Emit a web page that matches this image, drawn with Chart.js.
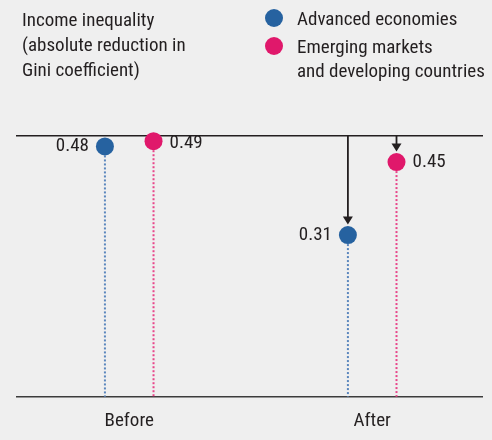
<!DOCTYPE html>
<html>
<head>
<meta charset="utf-8">
<script src="https://cdn.jsdelivr.net/npm/chart.js@4/dist/chart.umd.min.js"></script>
<style>
  html, body { margin: 0; padding: 0; background: #efefef; }
  #wrap {
    position: relative; width: 492px; height: 440px; overflow: hidden;
    font-family: "Roboto Condensed", "DejaVu Sans Condensed", sans-serif;
    color: #231f20;
  }
  #chart { position: absolute; left: 0; top: 0; }
  .title {
    position: absolute; left: 22px; top: 6.5px;
    font-size: 19px; line-height: 25px; white-space: nowrap;
  }
  .legend {
    position: absolute; left: 265px; top: 7.3px;
    font-size: 19px; line-height: 24.5px; white-space: nowrap;
  }
  .legend .item { position: relative; padding-left: 32px; margin-bottom: 3px; }
  .legend .dot {
    position: absolute; left: 0; top: 2px; width: 18px; height: 18px; border-radius: 50%;
  }
</style>
</head>
<body>
<div id="wrap">
  <canvas id="chart" width="492" height="440"></canvas>
  <div class="title" id="title"></div>
  <div class="legend" id="legend"></div>
</div>
<script>
// Categories and series values
const categories = ['Before', 'After'];
const advanced = [0.48, 0.31];
const emerging = [0.49, 0.45];

const titleLines = ['Income inequality', '(absolute reduction in', 'Gini coefficient)'];
const seriesLabels = [['Advanced economies'], ['Emerging markets', 'and developing countries']];

// Styling
const colors = ['#2662a0', '#e0186b'];
const dotColors = ['#5a86bd', '#e8468a'];
const ink = '#231f20';
const fontFamily = '"Roboto Condensed", "DejaVu Sans Condensed", sans-serif';
const seriesShift = [-0.1, 0.1];     // horizontal placement of each series within a category
const labelSide = [-1, 1];           // value labels: left of blue, right of pink

// Title and legend text
document.getElementById('title').innerHTML = titleLines.join('<br>');
document.getElementById('legend').innerHTML = seriesLabels.map((lines, i) =>
  `<div class="item"><span class="dot" style="background:${colors[i]}"></span>${lines.join('<br>')}</div>`
).join('');

const toPoints = (vals, s) => vals.map((v, i) => ({ x: i + seriesShift[s], y: v }));

// Dotted drop lines, arrows to the "After" values, and value labels
const annotate = {
  id: 'annotate',
  beforeDatasetsDraw(chart) {
    const ctx = chart.ctx, area = chart.chartArea;
    ctx.save();
    chart.data.datasets.forEach((ds, s) => {
      chart.getDatasetMeta(s).data.forEach(pt => {
        ctx.beginPath();
        ctx.setLineDash([2, 2]);
        ctx.lineWidth = 2;
        ctx.strokeStyle = dotColors[s];
        ctx.moveTo(pt.x, pt.y + 9);
        ctx.lineTo(pt.x, area.bottom);
        ctx.stroke();
      });
    });
    ctx.restore();
  },
  afterDatasetsDraw(chart) {
    const ctx = chart.ctx, area = chart.chartArea;
    const yTop = chart.scales.y.getPixelForValue(0.5);
    ctx.save();
    // arrows from the top rule down to each series' value after the change
    chart.data.datasets.forEach((ds, s) => {
      const pt = chart.getDatasetMeta(s).data[categories.length - 1];
      const tipY = pt.y - 10.5;
      ctx.setLineDash([]);
      ctx.strokeStyle = ink; ctx.fillStyle = ink; ctx.lineWidth = 1.8;
      ctx.beginPath();
      ctx.moveTo(pt.x, yTop);
      ctx.lineTo(pt.x, tipY - 7);
      ctx.stroke();
      ctx.beginPath();
      ctx.moveTo(pt.x - 5, tipY - 8);
      ctx.lineTo(pt.x + 5, tipY - 8);
      ctx.lineTo(pt.x, tipY);
      ctx.closePath();
      ctx.fill();
    });
    // value labels
    ctx.font = '19px ' + fontFamily;
    ctx.fillStyle = ink;
    ctx.textBaseline = 'middle';
    chart.data.datasets.forEach((ds, s) => {
      chart.getDatasetMeta(s).data.forEach((pt, i) => {
        const side = labelSide[s];
        ctx.textAlign = side < 0 ? 'right' : 'left';
        const y = Math.max(pt.y, area.top + 7);
        ctx.fillText(ds.data[i].y.toFixed(2), pt.x + side * 16, y);
      });
    });
    ctx.restore();
  }
};

new Chart(document.getElementById('chart'), {
  type: 'scatter',
  data: {
    datasets: [
      { label: seriesLabels[0].join(' '), data: toPoints(advanced, 0), backgroundColor: colors[0],
        borderWidth: 0, pointRadius: 9, pointHoverRadius: 9, clip: false },
      { label: seriesLabels[1].join(' '), data: toPoints(emerging, 1), backgroundColor: colors[1],
        borderWidth: 0, pointRadius: 9, pointHoverRadius: 9, clip: false }
    ]
  },
  options: {
    responsive: false,
    animation: false,
    events: [],
    layout: { padding: { left: 16, right: 8, top: 136, bottom: 0 } },
    plugins: { legend: { display: false }, tooltip: { enabled: false } },
    scales: {
      x: {
        type: 'linear', min: -0.466, max: 1.456,
        afterBuildTicks: sc => { sc.ticks = categories.map((c, i) => ({ value: i })); },
        afterFit: sc => { sc.height = 43.3; },
        ticks: {
          callback: v => categories[v],
          color: ink, padding: 13, maxRotation: 0,
          font: { family: fontFamily, size: 19 }
        },
        grid: { display: false, drawTicks: false },
        border: { display: false }
      },
      y: {
        min: 0, max: 0.5,
        afterBuildTicks: sc => { sc.ticks = [{ value: 0 }, { value: 0.5 }]; },
        ticks: { display: false },
        grid: {
          drawTicks: false,
          lineWidth: 1.4,
          color: c => c.tick && c.tick.value === 0 ? '#3c3c3c' : ink
        },
        border: { display: false }
      }
    }
  },
  plugins: [annotate]
});
</script>
</body>
</html>
